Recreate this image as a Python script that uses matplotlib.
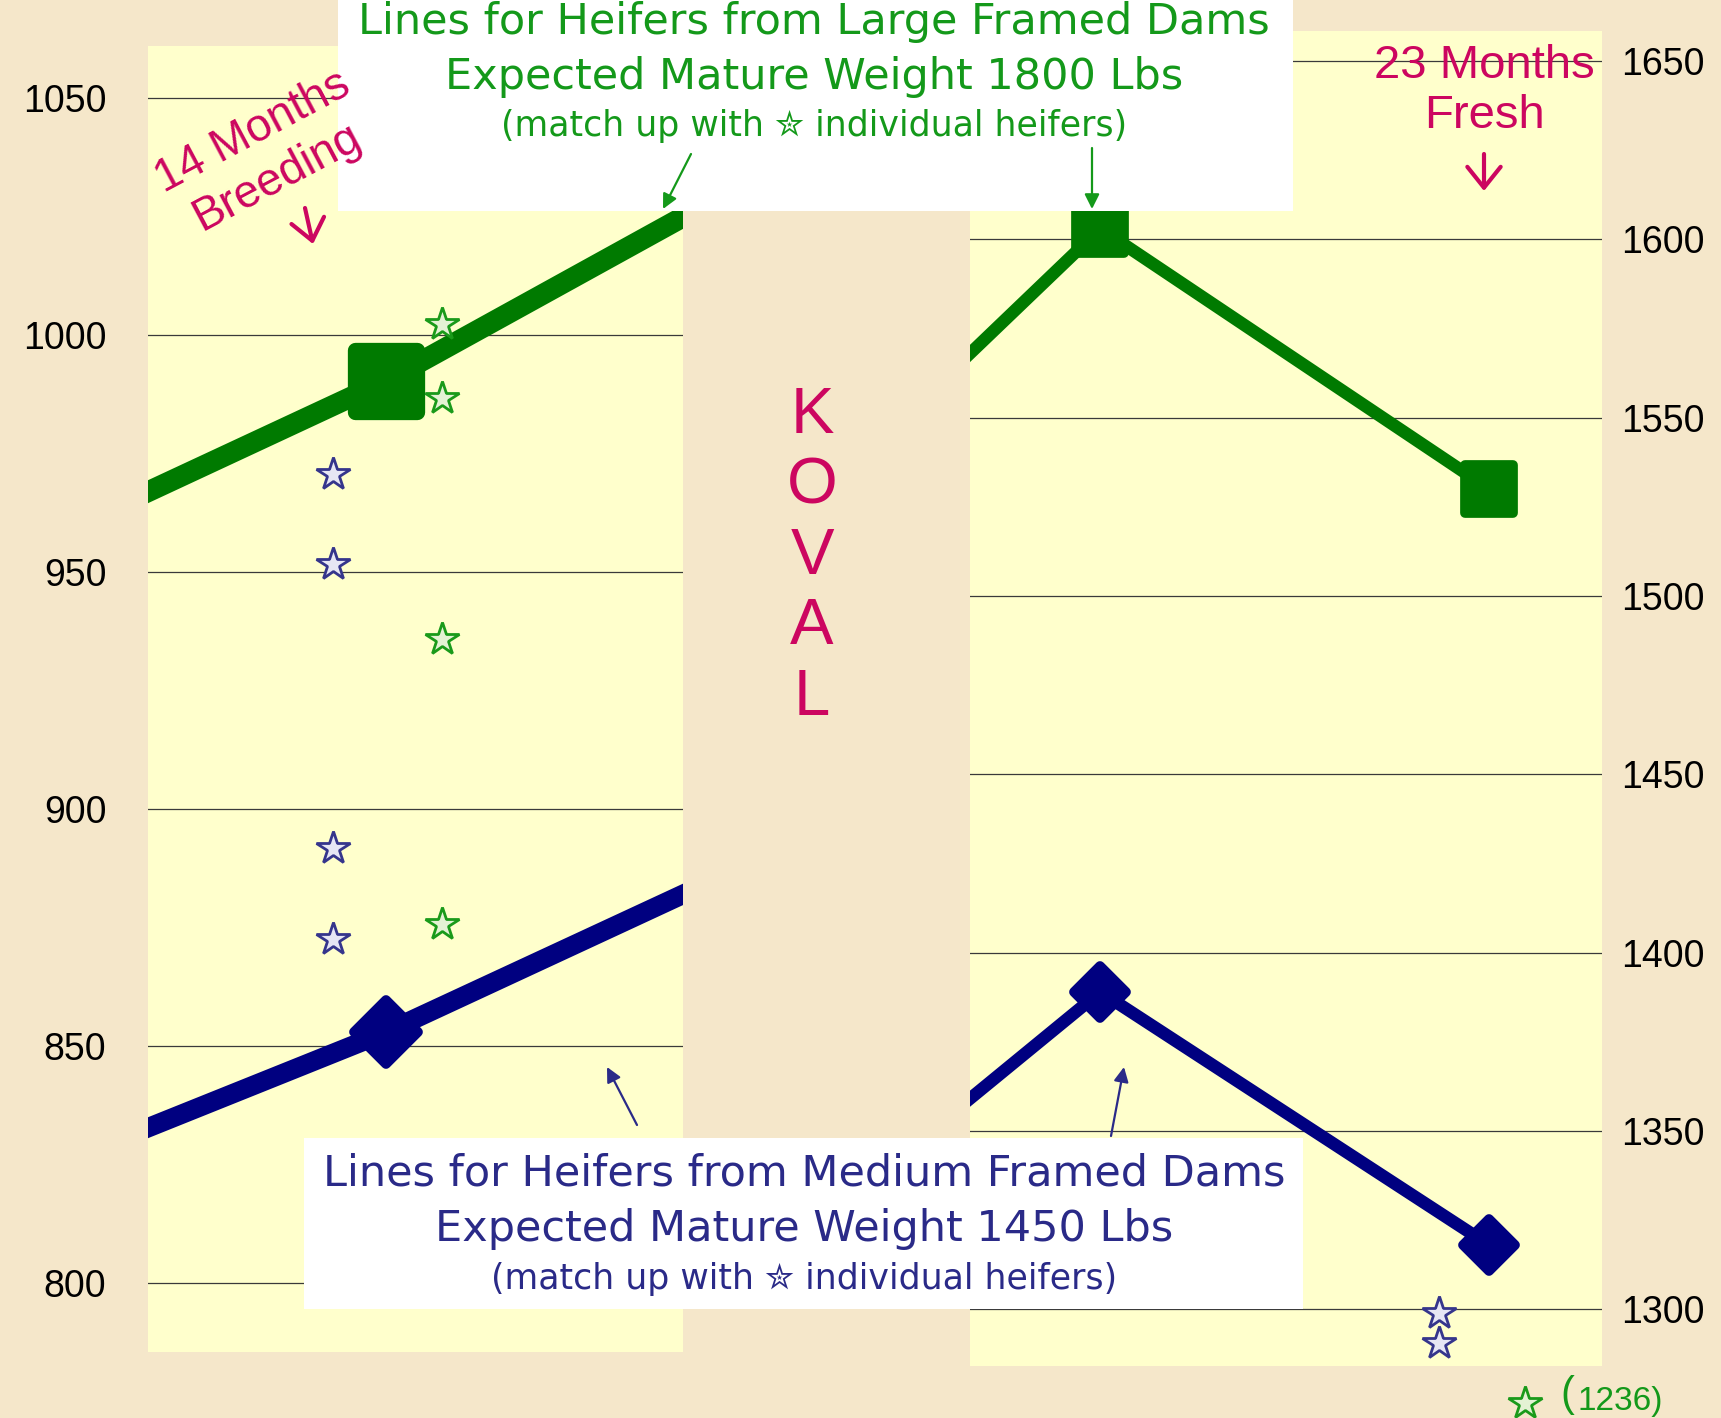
import matplotlib
matplotlib.use("Agg")
import matplotlib.pyplot as plt
from matplotlib.markers import MarkerStyle
from matplotlib.patches import Rectangle, FancyArrowPatch
from matplotlib.lines import Line2D

# weights (lbs), x is heifer age in months
leftMonths = [12, 14, 16]
largeFrameLeft = [942.6, 990.4, 1047]
mediumFrameLeft = [811.8, 853, 900.6]

rightMonths = [21, 22, 23]
largeFrameRight = [1498.5, 1603, 1530]
mediumFrameRight = [1299.6, 1389, 1318]

# individual heifers (stars)
largeStarMonthLeft = 14.23
largeStarsLeft = [1002.4, 986.7, 936, 875.8]
mediumStarMonthLeft = 13.78
mediumStarsLeft = [970.7, 951.7, 891.8, 872.7]
mediumStarMonthRight = 22.87
mediumStarsRight = [1299, 1290.5]
offChartHeifer = 1236

leftTicks = [800, 850, 900, 950, 1000, 1050]
rightTicks = [1300, 1350, 1400, 1450, 1500, 1550, 1600, 1650]

largeTitle = ["Lines for Heifers from Large Framed Dams",
              "Expected Mature Weight 1800 Lbs",
              "(match up with \u272e individual heifers)"]
mediumTitle = ["Lines for Heifers from Medium Framed Dams",
               "Expected Mature Weight 1450 Lbs",
               "(match up with \u272e individual heifers)"]

W, H = 1721, 1418
BG = "#F5E7CA"
PANEL = "#FFFFCC"
GREEN_LINE = "#007A00"
NAVY_LINE = "#000080"
GREEN_TXT = "#14991A"
NAVY_TXT = "#2A2A88"
CRIMSON = "#CC0660"


def figX(px):
    return px / W


def figY(py):
    return 1 - py / H


def styleAxes(ax, ticks, ylim, side):
    ax.set_facecolor(PANEL)
    for s in ax.spines.values():
        s.set_visible(False)
    ax.set_ylim(*ylim)
    ax.set_yticks(ticks)
    ax.set_xticks([])
    ax.grid(axis="y", color="#3a3a3a", linewidth=0.9)
    ax.set_axisbelow(True)
    if side == "right":
        ax.yaxis.tick_right()
        ax.tick_params(axis="y", length=0, pad=14, labelsize=27)
    else:
        ax.tick_params(axis="y", length=0, pad=30, labelsize=27)
    for lab in ax.get_yticklabels():
        lab.set_fontfamily("Liberation Sans")


def figArrow(fig, start, end, color, style, scale, lw):
    fig.add_artist(FancyArrowPatch((figX(start[0]), figY(start[1])), (figX(end[0]), figY(end[1])),
                                   transform=fig.transFigure, arrowstyle=style,
                                   mutation_scale=scale, lw=lw, color=color, zorder=6,
                                   shrinkA=0, shrinkB=0))


def main():
    plt.rcParams["font.family"] = ["DejaVu Sans"]
    fig = plt.figure(figsize=(17.21, 14.18), dpi=100)
    fig.patch.set_facecolor(BG)

    squareBig = MarkerStyle("s", joinstyle="round")
    diamond = MarkerStyle("D", joinstyle="round")

    # left chart (14 months)
    axL = fig.add_axes([figX(148), figY(1352), 535 / W, 1306 / H])
    styleAxes(axL, leftTicks, (785.5, 1061.0), "left")
    axL.set_xlim(13.02, 15.22)
    axL.plot(leftMonths, largeFrameLeft, color=GREEN_LINE, lw=15, marker=squareBig,
             ms=45, mew=11, mfc=GREEN_LINE, mec=GREEN_LINE, zorder=3)
    axL.plot(leftMonths, mediumFrameLeft, color=NAVY_LINE, lw=14, marker=diamond,
             ms=33, mew=7, mfc=NAVY_LINE, mec=NAVY_LINE, zorder=3)
    axL.plot([largeStarMonthLeft] * len(largeStarsLeft), largeStarsLeft, ls="none", marker="*",
             ms=25, mfc="#E4F2D4", mec="#1A9A1A", mew=2, zorder=4)
    axL.plot([mediumStarMonthLeft] * len(mediumStarsLeft), mediumStarsLeft, ls="none", marker="*",
             ms=25, mfc="#E6E6F4", mec="#35358C", mew=2, zorder=4)

    # right chart (22-23 months)
    axR = fig.add_axes([figX(970), figY(1366), 632 / W, 1335 / H])
    styleAxes(axR, rightTicks, (1284.1, 1658.4), "right")
    axR.set_xlim(21.665, 23.29)
    axR.plot(rightMonths, largeFrameRight, color=GREEN_LINE, lw=9, marker=squareBig,
             ms=35, mew=7, mfc=GREEN_LINE, mec=GREEN_LINE, zorder=3)
    axR.plot(rightMonths, mediumFrameRight, color=NAVY_LINE, lw=9, marker=diamond,
             ms=26, mew=7, mfc=NAVY_LINE, mec=NAVY_LINE, zorder=3)
    axR.plot([mediumStarMonthRight] * len(mediumStarsRight), mediumStarsRight, ls="none",
             marker="*", ms=25, mfc="#E6E6F4", mec="#35358C", mew=2, zorder=4, clip_on=False)

    # heifer below the scale
    fig.add_artist(Line2D([figX(1525)], [figY(1403)], transform=fig.transFigure, marker="*",
                          ms=25, mfc="#E4F2D4", mec="#1A9A1A", mew=2))
    fig.text(figX(1560), figY(1406), "(", fontsize=30, color=GREEN_TXT, ha="left",
             va="baseline", family="Liberation Sans")
    fig.text(figX(1577), figY(1410), f"{offChartHeifer})", fontsize=24, color=GREEN_TXT,
             ha="left", va="baseline", family="Liberation Sans")

    # white caption boxes
    fig.add_artist(Rectangle((figX(338), figY(211)), 955 / W, 211 / H, transform=fig.transFigure,
                             facecolor="white", edgecolor="none", zorder=2))
    fig.add_artist(Rectangle((figX(304), figY(1309)), 999 / W, 171 / H, transform=fig.transFigure,
                             facecolor="white", edgecolor="none", zorder=2))

    for txt, y, fs in zip(largeTitle, [22, 77, 126], [31, 31, 25]):
        fig.text(figX(814), figY(y), txt, fontsize=fs, color=GREEN_TXT, ha="center",
                 va="center", zorder=5)
    for txt, y, fs in zip(mediumTitle, [1174, 1229, 1279], [31, 31, 25]):
        fig.text(figX(804), figY(y), txt, fontsize=fs, color=NAVY_TXT, ha="center",
                 va="center", zorder=5)

    # arrows from captions to the lines
    pointers = [((691, 154), (663, 209), GREEN_TXT), ((1092, 148), (1092, 209), GREEN_TXT),
                ((637, 1125), (607, 1067), NAVY_TXT), ((1111, 1136), (1124, 1067), NAVY_TXT)]
    for start, end, c in pointers:
        figArrow(fig, start, end, c, "-|>", 22, 1.6)

    # age labels
    fig.text(figX(265), figY(155), "14 Months\nBreeding", fontsize=33, color=CRIMSON,
             rotation=28, rotation_mode="anchor", ha="center", va="center",
             family="Liberation Sans", zorder=6)
    figArrow(fig, (305, 208), (313, 244), CRIMSON, "->, head_length=0.5, head_width=0.4", 30, 3)
    fig.text(figX(1484), figY(91), "23 Months\nFresh", fontsize=34, color=CRIMSON,
             ha="center", va="center", family="Liberation Sans", zorder=6)
    figArrow(fig, (1484, 154), (1484, 191), CRIMSON, "->, head_length=0.5, head_width=0.4", 30, 3)

    fig.text(figX(812), figY(557), "K\nO\nV\nA\nL", fontsize=47, color=CRIMSON,
             linespacing=1.22, ha="center", va="center", family="Liberation Sans")

    fig.savefig("out.png", dpi=100, facecolor=fig.get_facecolor())


if __name__ == "__main__":
    main()
